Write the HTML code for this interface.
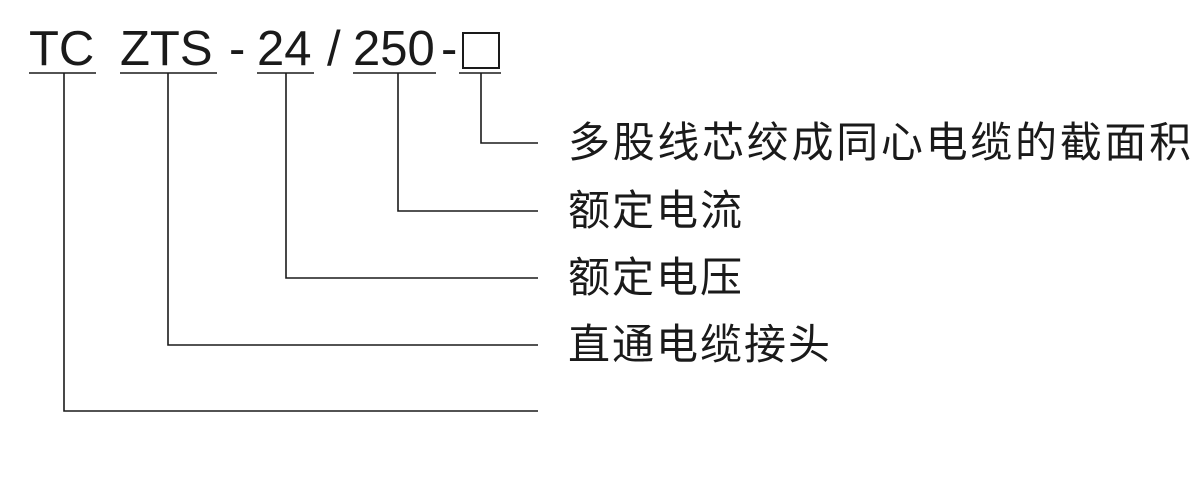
<!DOCTYPE html>
<html><head><meta charset="utf-8"><style>
html,body{margin:0;padding:0;background:#fff;}
body{width:1200px;height:493px;position:relative;overflow:hidden;}
.t{position:absolute;font-family:"Liberation Sans",Arial,sans-serif;font-size:49px;color:#1a1a1a;line-height:1;top:25px;}
.c{position:absolute;left:568px;font-family:"Liberation Sans","Noto Sans CJK SC",sans-serif;font-size:42px;letter-spacing:2px;color:#1a1a1a;line-height:1;white-space:nowrap;}
</style></head><body>
<div class="t" style="left:29px">TC</div>
<div class="t" style="left:120px">ZTS</div>
<div class="t" style="left:229px">-</div>
<div class="t" style="left:257px">24</div>
<div class="t" style="left:327px">/</div>
<div class="t" style="left:353px">250</div>
<div class="t" style="left:441px">-</div>
<div style="position:absolute;left:462px;top:32px;width:34px;height:33px;border:2px solid #1a1a1a;"></div>
<svg width="1200" height="493" style="position:absolute;left:0;top:0" fill="none" stroke="#1a1a1a" stroke-width="1.6">
<line x1="29" y1="73" x2="96" y2="73"/>
<line x1="120" y1="73" x2="217" y2="73"/>
<line x1="257" y1="73" x2="314" y2="73"/>
<line x1="353" y1="73" x2="436" y2="73"/>
<line x1="459" y1="73" x2="501" y2="73"/>
<polyline points="481,73 481,143 538,143"/>
<polyline points="398,73 398,211 538,211"/>
<polyline points="286,73 286,278 538,278"/>
<polyline points="168,73 168,345 538,345"/>
<polyline points="64,73 64,411 538,411"/>
</svg>
<div class="c" style="top:122px;letter-spacing:2.7px">多股线芯绞成同心电缆的截面积</div>
<div class="c" style="top:190px">额定电流</div>
<div class="c" style="top:257px">额定电压</div>
<div class="c" style="top:324px">直通电缆接头</div>
</body></html>
